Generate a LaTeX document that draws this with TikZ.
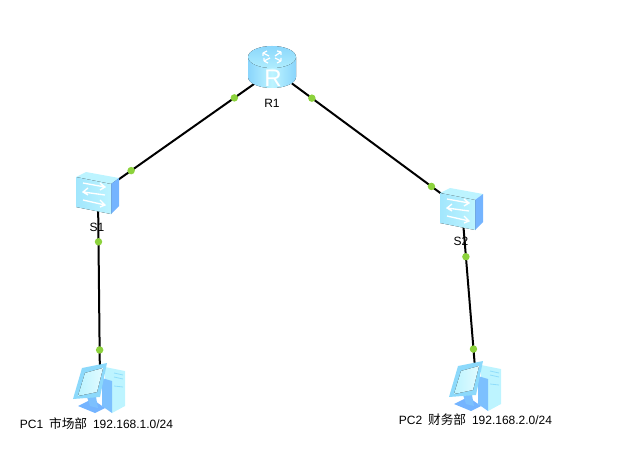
\documentclass[tikz,border=0pt]{standalone}
\usepackage{fontspec}
\setmainfont{Liberation Sans}
\newfontfamily\cjk{Noto Sans CJK SC}
\definecolor{portgreen}{HTML}{8CD23C}
\definecolor{iceblue}{HTML}{BDF4FF}
\definecolor{skyblue}{HTML}{8FDDFB}
\definecolor{sideblue}{HTML}{74B4FF}
\definecolor{paleblue}{HTML}{E2FBFF}

\begin{document}
\begin{tikzpicture}[
  x=0.75pt, y=-0.75pt,
  device/.style={inner sep=0pt, minimum size=2pt},
  link/.style={draw=black, line width=1.5pt},
  port/.style={circle, fill=portgreen, inner sep=0pt, minimum size=5.6pt},
  lbl/.style={font=\fontsize{9}{11}\selectfont, text=black, inner sep=0pt},
  swarrow/.style={draw=white, line width=1pt, fill=none},
  pics/router/.style={code={
    \fill[left color=skyblue!80!sideblue, right color=skyblue!80!sideblue, middle color=iceblue]
      (-24,0) -- (-24,20) arc[x radius=24, y radius=11, start angle=180, end angle=0] -- (24,0) -- cycle;
    \fill[top color=skyblue!85!sideblue, bottom color=iceblue!70!skyblue] (0,0) ellipse[x radius=24, y radius=11];
    \draw[white, line width=1pt] (-9,-4) -- (-3,-1) (-8,4) -- (-2,1) (9,-5) -- (3,-1) (9,4) -- (3,1)
      (-9,-4) -- (-5,-6) (-9,-4) -- (-9,-1) (-8,4) -- (-4,6) (-8,4) -- (-8,1)
      (9,-5) -- (5,-6) (9,-5) -- (9,-2) (9,4) -- (5,6) (9,4) -- (9,1);
    \node[device, text=white, font=\fontsize{18}{18}\selectfont] (glyph) at (1,21) {R};
  }},
  pics/switchbox/.style={code={
    \fill[iceblue] (-21,-16) -- (-11,-21) -- (22,-15) -- (14,-9) -- cycle;
    \fill[sideblue] (14,-9) -- (22,-15) -- (22,13) -- (14,21) -- cycle;
    \fill[left color=skyblue!60!iceblue, right color=iceblue] (-21,-16) -- (14,-9) -- (14,21) -- (-21,14) -- cycle;
    \draw[swarrow] (-14,-10) -- (8,-6) (3,-10) -- (8,-6) -- (3,-3);
    \draw[swarrow] (-14,-1) -- (8,2) (-9,-5) -- (-14,-1) -- (-9,2);
    \draw[swarrow] (-14,7) -- (8,12) (3,7) -- (8,12) -- (3,14);
  }},
  pics/pcbox/.style={code={
    \fill[iceblue] (6,-21) -- (26,-17) -- (26,18) -- (13,25) -- (6,15) -- cycle;
    \fill[sideblue!70!skyblue] (3,-10) -- (13,-7) -- (13,25) -- (3,18) -- cycle;
    \draw[skyblue, line width=0.6pt] (15,-15) -- (24,-13) (15,-11) -- (24,-9) (15,-2) -- (24,-1);
    \fill[sideblue] (-21,18) -- (-7,11) -- (6,20) -- (-4,25) -- cycle;
    \fill[sideblue!70!skyblue] (-12,9) -- (-3,9) -- (-1,20) -- (-9,18) -- cycle;
    \fill[skyblue!90!sideblue] (-17,-20) -- (8,-25) -- (1,9) -- (-26,11) -- cycle;
    \fill[left color=iceblue, right color=paleblue] (-14,-15) -- (4,-20) -- (-2,4) -- (-21,8) -- cycle;
  }}
]
  % Devices top to bottom
  \node[device] (R1) at (272,66) {};
  \coordinate (R1w) at (255,83.3);
  \coordinate (R1e) at (292,83.5);
  \node[device] (S1) at (98,194) {};
  \node[device] (S2) at (462,209) {};
  \node[device] (PC1) at (100,385) {};
  \node[device] (PC2) at (476,380) {};

  % Links, two ports on each
  \foreach \a/\b/\p/\q in {R1w/S1/.133/.797, R1e/S2/.118/.828, S1/PC1/.246/.822, S2/PC2/.275/.825} {
    \draw[link] (\a) -- node[port, pos=\p] (\a-\b-1) {} node[port, pos=\q] (\a-\b-2) {} (\b);
  }

  % Icons over the links
  \pic (R1icon) at (272,57) {router};
  \pic (S1icon) at (97,193) {switchbox};
  \pic (S2icon) at (461,209) {switchbox};
  \pic (PC1icon) at (99,388) {pcbox};
  \pic (PC2icon) at (475,386) {pcbox};

  % Labels
  \node[lbl] (R1lbl) at (272,103) {R1};
  \node[lbl] (S1lbl) at (97,227) {S1};
  \node[lbl] (S2lbl) at (461,241) {S2};
  \node[lbl] (PC1lbl) at (96.5,424) {PC1\hspace{1.9pt} {\cjk\fontsize{9.5}{11}\selectfont 市场部}\hspace{1.9pt} 192.168.1.0/24};
  \node[lbl] (PC2lbl) at (475.5,420) {PC2\hspace{1.9pt} {\cjk\fontsize{9.5}{11}\selectfont 财务部}\hspace{1.9pt} 192.168.2.0/24};

  \useasboundingbox (0,0) rectangle (627,456);
\end{tikzpicture}
\end{document}
